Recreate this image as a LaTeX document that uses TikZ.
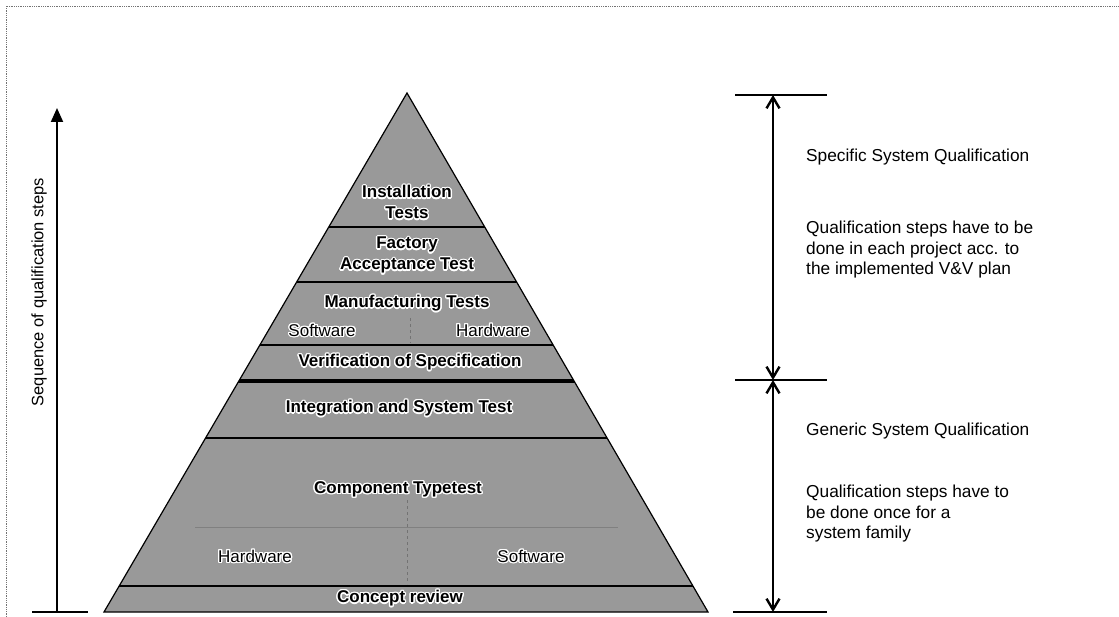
\documentclass[tikz,border=0pt]{standalone}
\usepackage{fontspec}
\setmainfont{Liberation Sans}
\usepackage[copies]{contour}
\contourlength{1.3pt}
\contournumber{16}
\usetikzlibrary{arrows.meta}
\newcommand{\halo}[1]{\contour{white}{#1}}
\tikzset{
  pyr/.style={fill=black!40},
  pyredge/.style={draw=black, line width=1.2pt, line join=miter},
  layerline/.style={draw=black, line width=1.4pt},
  thickline/.style={draw=black, line width=3.2pt},
  faintline/.style={draw=black!50, line width=0.8pt},
  faintdash/.style={draw=black!55, line width=0.9pt, dashed},
  blbl/.style={font=\fontsize{17}{21}\selectfont\bfseries, align=center, inner sep=0pt},
  nlbl/.style={font=\fontsize{17}{21}\selectfont, inner sep=0pt},
  rtxt/.style={font=\fontsize{17.3}{20.5}\selectfont, align=left, anchor=west, inner sep=0pt},
  seqtxt/.style={font=\fontsize{16.5}{21}\selectfont, inner sep=0pt, rotate=90},
  tickline/.style={draw=black, line width=1.6pt},
  dimarrow/.style={draw=black, line width=1.5pt,
    {Straight Barb[length=11pt,width=13pt,line width=2.4pt]}-{Straight Barb[length=11pt,width=13pt,line width=2.4pt]}},
  seqarrow/.style={draw=black, line width=2pt, -{Triangle[length=14pt,width=12pt]}},
  framel/.style={draw=black!55, densely dotted, line width=0.8pt}
}
\begin{document}
\begin{tikzpicture}[x=1pt,y=-1pt]
\useasboundingbox (0,0) rectangle (1119,617);
% frame
\coordinate (f1) at (6,617);
\coordinate (f2) at (6,6);
\coordinate (f3) at (1119,6);
\draw[framel] (f1) -- (f2) -- (f3);

% pyramid
\coordinate (A) at (407,93);
\coordinate (BL) at (104,612);
\coordinate (BR) at (708,612);
\fill[pyr] (A) -- (BL) -- (BR) -- cycle;
% faint inner dividers
\coordinate (fh1) at (195,527); \coordinate (fh2) at (618,527);
\draw[faintline] (fh1) -- (fh2);
\coordinate (fv1) at (407,500); \coordinate (fv2) at (407,584);
\draw[faintdash] (fv1) -- (fv2);
\coordinate (fv3) at (410,318); \coordinate (fv4) at (410,343);
\draw[faintdash] (fv3) -- (fv4);
\begin{scope}
  \clip (A) -- (BL) -- (BR) -- cycle;
  \coordinate (l1a) at (0,227); \coordinate (l1b) at (1119,227);
  \coordinate (l2a) at (0,282); \coordinate (l2b) at (1119,282);
  \coordinate (l3a) at (0,345); \coordinate (l3b) at (1119,345);
  \coordinate (l4a) at (0,381); \coordinate (l4b) at (1119,381);
  \coordinate (l5a) at (0,438); \coordinate (l5b) at (1119,438);
  \coordinate (l6a) at (0,586); \coordinate (l6b) at (1119,586);
  \draw[layerline] (l1a) -- (l1b);
  \draw[layerline] (l2a) -- (l2b);
  \draw[layerline] (l3a) -- (l3b);
  \draw[thickline] (l4a) -- (l4b);
  \draw[layerline] (l5a) -- (l5b);
  \draw[layerline] (l6a) -- (l6b);
\end{scope}
\draw[pyredge] (A) -- (BL) -- (BR) -- cycle;

% pyramid labels
\node[blbl] (inst) at (407,203) {\halo{Installation}\\\halo{Tests}};
\node[blbl] (fat) at (407,256) {\halo{Factory}\\\halo{Acceptance Test}};
\node[blbl] (mt) at (407,304) {\halo{Manufacturing Tests}};
\node[nlbl] (mtsw) at (322,331) {\halo{Software}};
\node[nlbl] (mthw) at (493,331) {\halo{Hardware}};
\node[blbl] (vos) at (410,363) {\halo{Verification of Specification}};
\node[blbl] (ist) at (399,409) {\halo{Integration  and System Test}};
\node[blbl] (ct) at (398,490) {\halo{Component Typetest}};
\node[nlbl] (cthw) at (255,557) {\halo{Hardware}};
\node[nlbl] (ctsw) at (531,557) {\halo{Software}};
\node[blbl] (cr) at (400,599) {\halo{Concept review}};

% left sequence arrow
\coordinate (sb) at (57,612);
\coordinate (st) at (57,108);
\coordinate (bl1) at (32,612);
\coordinate (bl2) at (88,612);
\draw[seqarrow] (sb) -- (st);
\draw[tickline] (bl1) -- (bl2);
\node[seqtxt] (seq) at (39,292) {Sequence of qualification steps};

% right dimension lines
\coordinate (t1a) at (735,95);  \coordinate (t1b) at (827,95);
\coordinate (t2a) at (735,380); \coordinate (t2b) at (827,380);
\coordinate (t3a) at (733,612); \coordinate (t3b) at (827,612);
\coordinate (d1) at (773,95);
\coordinate (d2) at (773,380);
\coordinate (d3) at (773,612);
\draw[tickline] (t1a) -- (t1b);
\draw[tickline] (t2a) -- (t2b);
\draw[tickline] (t3a) -- (t3b);
\draw[dimarrow] (d1) -- (d2);
\draw[dimarrow] (d2) -- (d3);

% right texts
\node[rtxt] (ssq) at (806,157) {Specific System Qualification};
\node[rtxt] (ssqd) at (806,250) {Qualification steps have to be\\done in each project acc. to\\the implemented V\&V plan};
\node[rtxt] (gsq) at (806,431) {Generic System Qualification};
\node[rtxt] (gsqd) at (806,514) {Qualification steps have to\\be done once for a\\system family};
\end{tikzpicture}
\end{document}
